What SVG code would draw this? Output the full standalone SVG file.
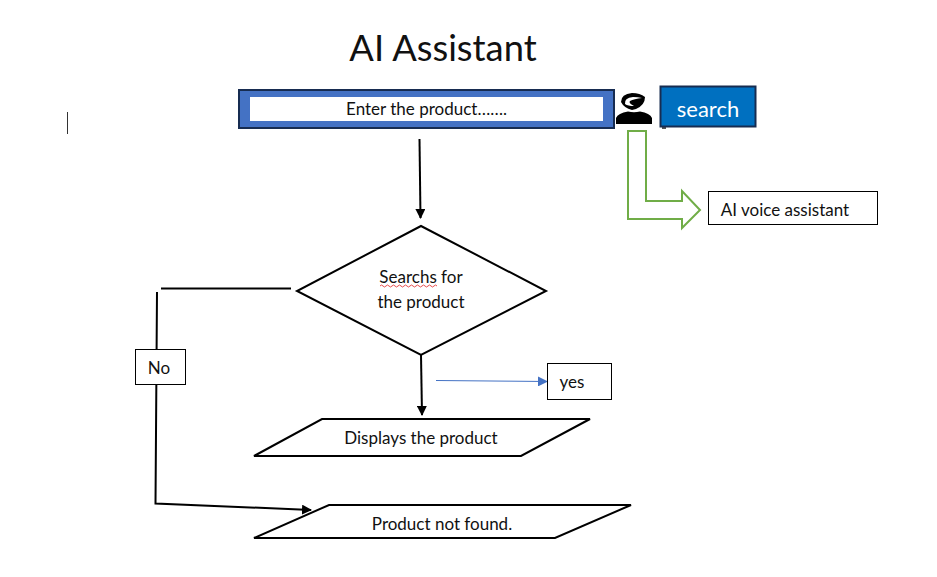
<svg xmlns="http://www.w3.org/2000/svg" width="937" height="577" viewBox="0 0 937 577">
<style>
text{font-family:"Lato","Open Sans","Liberation Sans",sans-serif;fill:#111;font-size:17px;text-anchor:middle}
.ln{fill:none;stroke:#000;stroke-width:2}
.shape{fill:#fff;stroke:#000;stroke-width:2}
.box{fill:#fff;stroke:#000;stroke-width:1}
</style>
<defs>
<marker id="ah" markerUnits="userSpaceOnUse" markerWidth="10" markerHeight="10" refX="9" refY="5" orient="auto"><path d="M0 0L10 5L0 10Z" fill="#000"/></marker>
<marker id="ahb" markerUnits="userSpaceOnUse" markerWidth="10" markerHeight="10" refX="9" refY="5" orient="auto"><path d="M0 0L10 5L0 10Z" fill="#4472c4"/></marker>
</defs>
<rect width="937" height="577" fill="#fff"/>
<g id="title"><text x="443" y="61" style="font-size:36.300px">AI Assistant</text></g>
<path id="cursor" d="M67.500 112V134" stroke="#333" stroke-width="1"/>
<g id="connectors">
<path class="ln" d="M419.500 139L420.500 218" marker-end="url(#ah)"/>
<path class="ln" d="M421 355L422 415" marker-end="url(#ah)"/>
<path class="ln" d="M291 288.500H161"/>
<path class="ln" d="M157 292L155.500 503.500L311 510" marker-end="url(#ah)"/>
<path d="M436 380.500L547 381.500" fill="none" stroke="#4472c4" stroke-width="1" marker-end="url(#ahb)"/>
</g>
<g id="input-bar">
<rect x="239" y="90" width="375" height="38" fill="#4472c4" stroke="#172c51" stroke-width="2"/>
<rect x="250" y="97" width="353" height="24" fill="#fff"/>
<text x="426.500" y="114.500">Enter the product…….</text>
</g>
<g id="voice-icon">
<path d="M616 124V118Q618 113 628 111.500Q634 113 640 111.500Q650 113 652 118V124Z" fill="#000"/>
<path d="M621 102Q621 94 632 93Q640 93 645 97Q645 105 636 109L632 110Q624 108 621 102Z" fill="#000"/>
<path d="M625 104Q624 98 633 97Q638 97 642 98Q634 99 630 101Q628 103 634 106Q628 106 625 104Z" fill="#fff"/>
</g>
<path id="tiny-mark" d="M662 127h4v2h-4z" fill="#555"/>
<g id="search">
<rect x="660.500" y="86.500" width="95" height="40" fill="#0070c0" stroke="#172c51" stroke-width="2"/>
<text x="708" y="116.500" style="font-size:22px;fill:#fff">search</text>
</g>
<g id="voice-arrow">
<path d="M628 131H646V201H682V191L700 210L682 228V219H628Z" fill="#fff" stroke="#70ad47" stroke-width="2"/>
</g>
<g id="voice-assistant">
<rect class="box" x="708.500" y="191.500" width="169" height="33"/>
<text x="785" y="215.500">AI voice assistant</text>
</g>
<g id="decision">
<path class="shape" d="M421 226L546 291L421 355L297 291Z"/>
<text x="421" y="282.500">Searchs for</text>
<text x="421" y="307.500">the product</text>
<path d="M380 286q1.500 -2 3 0t3 0t3 0t3 0t3 0t3 0t3 0t3 0t3 0t3 0t3 0t3 0t3 0t3 0t3 0t3 0t3 0t3 0t3 0" fill="none" stroke="#e02020" stroke-width="0.800"/>
</g>
<g id="no-label">
<rect class="box" x="135.500" y="349.500" width="50" height="35"/>
<text x="159" y="373.500">No</text>
</g>
<g id="yes-label">
<rect class="box" x="547.500" y="363.500" width="64" height="36"/>
<text x="572" y="387.500">yes</text>
</g>
<g id="display">
<path class="shape" d="M322 419H590L521 456H254Z"/>
<text x="421" y="443.500">Displays the product</text>
</g>
<g id="not-found">
<path class="shape" d="M329 505H631L555 538H254Z"/>
<text x="442" y="529.500">Product not found.</text>
</g>
</svg>
